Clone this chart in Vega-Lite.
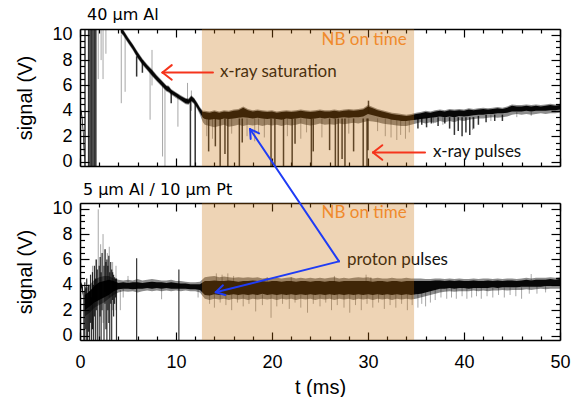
{
"$schema": "https://vega.github.io/schema/vega-lite/v6.json",
"background": "white",
"padding": {"left": 15, "top": 6, "right": 10, "bottom": 5},
"spacing": 37,
"bounds": "flush",
"config": {
  "view": {"stroke": null},
  "axis": {"zindex": 1, "grid": false, "labelFont": "Liberation Sans", "titleFont": "Liberation Sans", "labelColor": "black", "titleColor": "black", "tickColor": "black", "domainColor": "black", "domainWidth": 1.5, "tickWidth": 1.2, "labelFontSize": 18, "titleFontSize": 20, "titleFontWeight": "normal", "labelFlush": false, "labelOverlap": false}
},
"datasets": {
  "topBand": [
    {"seg":"a","t":0,"lf":4.0,"lo":4.05,"hi":4.3,"hf":4.35},
    {"seg":"a","t":0.1,"lf":3.8,"lo":3.9,"hi":4.15,"hf":4.2},
    {"seg":"a","t":0.2,"lf":3.3,"lo":3.4,"hi":3.8,"hf":3.85},
    {"seg":"a","t":0.3,"lf":2.3,"lo":2.4,"hi":3.0,"hf":3.1},
    {"seg":"a","t":0.4,"lf":0.7,"lo":0.8,"hi":1.8,"hf":1.9},
    {"seg":"a","t":0.45,"lf":-0.35,"lo":-0.35,"hi":0.8,"hf":0.9},
    {"seg":"b","t":4.25,"lf":10.1,"lo":10.2,"hi":10.45,"hf":10.45},
    {"seg":"b","t":4.5,"lf":9.92,"lo":10.0,"hi":10.35,"hf":10.42},
    {"seg":"b","t":5.0,"lf":9.32,"lo":9.4,"hi":9.75,"hf":9.82},
    {"seg":"b","t":5.5,"lf":8.77,"lo":8.85,"hi":9.2,"hf":9.27},
    {"seg":"b","t":6.0,"lf":8.12,"lo":8.2,"hi":8.6,"hf":8.67},
    {"seg":"b","t":6.5,"lf":7.62,"lo":7.7,"hi":8.05,"hf":8.12},
    {"seg":"b","t":7.0,"lf":7.17,"lo":7.25,"hi":7.6,"hf":7.67},
    {"seg":"b","t":7.5,"lf":6.72,"lo":6.8,"hi":7.2,"hf":7.27},
    {"seg":"b","t":8.0,"lf":6.32,"lo":6.4,"hi":6.75,"hf":6.82},
    {"seg":"b","t":8.5,"lf":5.92,"lo":6.0,"hi":6.35,"hf":6.42},
    {"seg":"b","t":9.0,"lf":5.52,"lo":5.6,"hi":5.95,"hf":6.02},
    {"seg":"b","t":9.25,"lf":5.42,"lo":5.5,"hi":5.9,"hf":5.97},
    {"seg":"b","t":9.5,"lf":5.27,"lo":5.35,"hi":5.65,"hf":5.72},
    {"seg":"b","t":10.0,"lf":5.02,"lo":5.1,"hi":5.4,"hf":5.47},
    {"seg":"b","t":10.5,"lf":4.77,"lo":4.85,"hi":5.15,"hf":5.22},
    {"seg":"b","t":11.0,"lf":4.52,"lo":4.6,"hi":4.95,"hf":5.02},
    {"seg":"b","t":11.3,"lf":4.47,"lo":4.55,"hi":4.9,"hf":4.97},
    {"seg":"b","t":11.6,"lf":4.72,"lo":4.8,"hi":5.15,"hf":5.22},
    {"seg":"b","t":11.9,"lf":4.52,"lo":4.6,"hi":4.95,"hf":5.02},
    {"seg":"b","t":12.2,"lf":4.15,"lo":4.25,"hi":4.6,"hf":4.67},
    {"seg":"b","t":12.5,"lf":3.7,"lo":3.85,"hi":4.2,"hf":4.28},
    {"seg":"b","t":12.8,"lf":3.1,"lo":3.45,"hi":3.9,"hf":4.0},
    {"seg":"b","t":13.0,"lf":2.9,"lo":3.35,"hi":3.9,"hf":4.0},
    {"seg":"b","t":13.5,"lf":2.8,"lo":3.3,"hi":3.85,"hf":3.95},
    {"seg":"b","t":14.0,"lf":2.7,"lo":3.35,"hi":3.95,"hf":4.05},
    {"seg":"b","t":14.5,"lf":2.8,"lo":3.3,"hi":3.85,"hf":3.95},
    {"seg":"b","t":15.0,"lf":2.9,"lo":3.4,"hi":3.95,"hf":4.05},
    {"seg":"b","t":15.5,"lf":2.75,"lo":3.35,"hi":3.9,"hf":4.0},
    {"seg":"b","t":16.0,"lf":2.8,"lo":3.4,"hi":4.0,"hf":4.1},
    {"seg":"b","t":16.5,"lf":2.9,"lo":3.45,"hi":4.05,"hf":4.15},
    {"seg":"b","t":17.0,"lf":2.8,"lo":3.5,"hi":4.25,"hf":4.35},
    {"seg":"b","t":17.5,"lf":2.9,"lo":3.45,"hi":4.05,"hf":4.15},
    {"seg":"b","t":18.0,"lf":2.85,"lo":3.4,"hi":3.95,"hf":4.05},
    {"seg":"b","t":18.5,"lf":2.9,"lo":3.45,"hi":4.0,"hf":4.1},
    {"seg":"b","t":19.0,"lf":2.8,"lo":3.4,"hi":3.95,"hf":4.05},
    {"seg":"b","t":19.5,"lf":2.9,"lo":3.35,"hi":3.9,"hf":4.0},
    {"seg":"b","t":20.0,"lf":2.85,"lo":3.4,"hi":3.95,"hf":4.05},
    {"seg":"b","t":20.5,"lf":2.9,"lo":3.35,"hi":3.85,"hf":3.95},
    {"seg":"b","t":21.0,"lf":2.8,"lo":3.3,"hi":3.9,"hf":4.0},
    {"seg":"b","t":21.5,"lf":2.9,"lo":3.4,"hi":3.95,"hf":4.05},
    {"seg":"b","t":22.0,"lf":2.85,"lo":3.35,"hi":3.9,"hf":4.0},
    {"seg":"b","t":22.5,"lf":2.9,"lo":3.4,"hi":3.95,"hf":4.05},
    {"seg":"b","t":23.0,"lf":3.0,"lo":3.45,"hi":4.0,"hf":4.1},
    {"seg":"b","t":23.5,"lf":2.9,"lo":3.4,"hi":3.95,"hf":4.05},
    {"seg":"b","t":24.0,"lf":2.85,"lo":3.35,"hi":3.9,"hf":4.0},
    {"seg":"b","t":24.5,"lf":2.9,"lo":3.4,"hi":3.95,"hf":4.05},
    {"seg":"b","t":25.0,"lf":3.0,"lo":3.45,"hi":4.0,"hf":4.1},
    {"seg":"b","t":25.5,"lf":2.9,"lo":3.4,"hi":3.95,"hf":4.05},
    {"seg":"b","t":26.0,"lf":2.95,"lo":3.45,"hi":3.95,"hf":4.05},
    {"seg":"b","t":26.5,"lf":2.9,"lo":3.4,"hi":4.0,"hf":4.1},
    {"seg":"b","t":27.0,"lf":3.0,"lo":3.45,"hi":3.95,"hf":4.05},
    {"seg":"b","t":27.5,"lf":2.95,"lo":3.5,"hi":4.0,"hf":4.1},
    {"seg":"b","t":28.0,"lf":3.0,"lo":3.45,"hi":4.05,"hf":4.15},
    {"seg":"b","t":28.5,"lf":3.05,"lo":3.5,"hi":4.0,"hf":4.1},
    {"seg":"b","t":29.0,"lf":3.0,"lo":3.5,"hi":4.05,"hf":4.15},
    {"seg":"b","t":29.5,"lf":3.1,"lo":3.55,"hi":4.1,"hf":4.2},
    {"seg":"b","t":30.0,"lf":3.2,"lo":3.75,"hi":4.35,"hf":4.45},
    {"seg":"b","t":30.5,"lf":3.15,"lo":3.65,"hi":4.2,"hf":4.3},
    {"seg":"b","t":31.0,"lf":3.1,"lo":3.55,"hi":4.05,"hf":4.15},
    {"seg":"b","t":31.5,"lf":3.0,"lo":3.45,"hi":3.95,"hf":4.05},
    {"seg":"b","t":32.0,"lf":2.95,"lo":3.4,"hi":3.85,"hf":3.95},
    {"seg":"b","t":32.5,"lf":2.9,"lo":3.3,"hi":3.75,"hf":3.85},
    {"seg":"b","t":33.0,"lf":2.85,"lo":3.25,"hi":3.7,"hf":3.8},
    {"seg":"b","t":33.5,"lf":2.8,"lo":3.2,"hi":3.65,"hf":3.75},
    {"seg":"b","t":34.0,"lf":2.8,"lo":3.2,"hi":3.6,"hf":3.7},
    {"seg":"b","t":34.5,"lf":2.9,"lo":3.25,"hi":3.65,"hf":3.75},
    {"seg":"b","t":35.0,"lf":3.0,"lo":3.3,"hi":3.75,"hf":3.85},
    {"seg":"b","t":35.5,"lf":3.1,"lo":3.35,"hi":3.8,"hf":3.9},
    {"seg":"b","t":36.0,"lf":3.0,"lo":3.4,"hi":3.9,"hf":4.0},
    {"seg":"b","t":36.5,"lf":3.1,"lo":3.45,"hi":3.85,"hf":3.95},
    {"seg":"b","t":37.0,"lf":3.05,"lo":3.5,"hi":3.95,"hf":4.05},
    {"seg":"b","t":37.5,"lf":3.2,"lo":3.55,"hi":4.0,"hf":4.1},
    {"seg":"b","t":38.0,"lf":3.1,"lo":3.5,"hi":3.95,"hf":4.05},
    {"seg":"b","t":38.5,"lf":3.2,"lo":3.55,"hi":4.05,"hf":4.15},
    {"seg":"b","t":39.0,"lf":3.1,"lo":3.5,"hi":4.0,"hf":4.1},
    {"seg":"b","t":39.5,"lf":3.25,"lo":3.6,"hi":4.05,"hf":4.15},
    {"seg":"b","t":40.0,"lf":3.2,"lo":3.55,"hi":4.0,"hf":4.1},
    {"seg":"b","t":40.5,"lf":3.3,"lo":3.6,"hi":4.1,"hf":4.2},
    {"seg":"b","t":41.0,"lf":3.35,"lo":3.65,"hi":4.05,"hf":4.15},
    {"seg":"b","t":41.5,"lf":3.4,"lo":3.7,"hi":4.1,"hf":4.2},
    {"seg":"b","t":42.0,"lf":3.4,"lo":3.7,"hi":4.15,"hf":4.25},
    {"seg":"b","t":42.5,"lf":3.45,"lo":3.75,"hi":4.1,"hf":4.2},
    {"seg":"b","t":43.0,"lf":3.5,"lo":3.75,"hi":4.15,"hf":4.25},
    {"seg":"b","t":43.5,"lf":3.45,"lo":3.8,"hi":4.2,"hf":4.3},
    {"seg":"b","t":44.0,"lf":3.5,"lo":3.8,"hi":4.15,"hf":4.25},
    {"seg":"b","t":44.5,"lf":3.55,"lo":3.85,"hi":4.25,"hf":4.35},
    {"seg":"b","t":45.0,"lf":3.7,"lo":3.95,"hi":4.4,"hf":4.5},
    {"seg":"b","t":45.5,"lf":3.75,"lo":3.95,"hi":4.35,"hf":4.45},
    {"seg":"b","t":46.0,"lf":3.7,"lo":3.95,"hi":4.35,"hf":4.45},
    {"seg":"b","t":46.5,"lf":3.75,"lo":4.0,"hi":4.4,"hf":4.5},
    {"seg":"b","t":47.0,"lf":3.7,"lo":3.95,"hi":4.35,"hf":4.45},
    {"seg":"b","t":47.5,"lf":3.75,"lo":4.0,"hi":4.4,"hf":4.5},
    {"seg":"b","t":48.0,"lf":3.8,"lo":4.0,"hi":4.35,"hf":4.45},
    {"seg":"b","t":48.5,"lf":3.75,"lo":4.0,"hi":4.4,"hf":4.5},
    {"seg":"b","t":49.0,"lf":3.8,"lo":4.05,"hi":4.45,"hf":4.55},
    {"seg":"b","t":49.5,"lf":3.8,"lo":4.05,"hi":4.4,"hf":4.5},
    {"seg":"b","t":50.0,"lf":3.85,"lo":4.1,"hi":4.45,"hf":4.55}
  ],
  "topDark": [
    {"t":0.52,"a":10.45,"b":-0.35},{"t":0.9,"a":10.45,"b":-0.35},{"t":1.05,"a":10.45,"b":-0.35},{"t":1.2,"a":10.45,"b":-0.35},{"t":1.35,"a":10.45,"b":-0.35},{"t":1.5,"a":10.45,"b":-0.35},{"t":1.65,"a":10.45,"b":-0.35},
    {"t":5.9,"a":8.3,"b":6.7},{"t":6.5,"a":8.0,"b":7.0},{"t":9.5,"a":5.6,"b":4.6},{"t":11.5,"a":4.9,"b":-0.35},{"t":12.0,"a":4.6,"b":-0.35},
    {"t":13.4,"a":3.4,"b":0.8},{"t":14.1,"a":3.4,"b":1.2},{"t":14.6,"a":3.4,"b":-0.35},{"t":15.1,"a":3.4,"b":0.6},{"t":15.4,"a":3.4,"b":-0.35},{"t":16.6,"a":3.4,"b":-0.35},{"t":16.9,"a":3.4,"b":1.5},
    {"t":19.9,"a":3.4,"b":-0.35},{"t":20.3,"a":3.4,"b":-0.35},{"t":21.2,"a":3.4,"b":-0.35},{"t":22.1,"a":3.4,"b":-0.35},{"t":22.4,"a":3.4,"b":1.4},{"t":24.1,"a":3.4,"b":-0.35},{"t":24.3,"a":3.4,"b":0.8},
    {"t":26.0,"a":3.4,"b":0.9},{"t":26.6,"a":3.4,"b":-0.35},{"t":26.9,"a":3.4,"b":-0.35},{"t":27.3,"a":3.4,"b":0.2},{"t":27.6,"a":3.4,"b":-0.35},{"t":28.5,"a":3.4,"b":0.8},{"t":29.5,"a":3.4,"b":-0.35},{"t":29.9,"a":3.4,"b":-0.35},{"t":30.0,"a":3.4,"b":0.9},{"t":30.05,"a":4.8,"b":3.8},
    {"t":35.2,"a":3.5,"b":2.6},{"t":35.6,"a":3.5,"b":2.9},{"t":36.1,"a":3.5,"b":2.7},{"t":36.6,"a":3.5,"b":3.0},{"t":37.3,"a":3.5,"b":2.8},{"t":38.0,"a":3.5,"b":3.0},{"t":38.5,"a":3.5,"b":2.6},{"t":39.0,"a":3.5,"b":2.1},{"t":39.4,"a":3.5,"b":2.4},{"t":39.8,"a":3.5,"b":2.0},{"t":40.2,"a":3.5,"b":2.3},{"t":40.6,"a":3.5,"b":2.1},{"t":41.0,"a":3.5,"b":2.6},{"t":41.5,"a":3.6,"b":2.9},{"t":42.3,"a":3.7,"b":3.1},{"t":43.2,"a":3.7,"b":3.2},{"t":44.0,"a":3.7,"b":3.2}
  ],
  "topLight": [
    {"t":1.9,"a":10.45,"b":6.5},{"t":2.2,"a":10.45,"b":8.0},{"t":2.4,"a":10.45,"b":6.5},{"t":2.7,"a":10.45,"b":8.5},{"t":4.3,"a":10.0,"b":4.6},{"t":4.7,"a":9.9,"b":5.5},{"t":7.3,"a":7.1,"b":3.3},{"t":7.5,"a":8.8,"b":6.0},{"t":8.6,"a":6.2,"b":0.4},{"t":8.85,"a":6.0,"b":-0.35},{"t":10.2,"a":5.3,"b":2.75},{"t":11.2,"a":6.2,"b":4.7},{"t":11.6,"a":5.6,"b":4.0},
    {"t":13.2,"a":3.4,"b":2.0},{"t":13.8,"a":3.4,"b":1.8},{"t":15.8,"a":3.4,"b":2.2},{"t":17.4,"a":3.4,"b":2.0},{"t":18.2,"a":3.4,"b":1.6},{"t":18.6,"a":3.4,"b":2.3},{"t":19.2,"a":3.4,"b":1.9},{"t":21.6,"a":3.4,"b":2.0},{"t":23.0,"a":3.4,"b":1.8},{"t":23.6,"a":3.4,"b":2.3},{"t":25.2,"a":3.4,"b":1.9},{"t":28.0,"a":3.4,"b":2.2},{"t":31.0,"a":3.4,"b":2.4},{"t":31.8,"a":3.4,"b":2.0},{"t":32.4,"a":3.4,"b":1.9},{"t":33.0,"a":3.3,"b":1.7},{"t":33.4,"a":3.3,"b":2.1},{"t":33.9,"a":3.3,"b":1.8},{"t":34.3,"a":3.3,"b":2.3},
    {"t":36.8,"a":3.5,"b":3.0},{"t":37.8,"a":3.5,"b":2.9},{"t":40.9,"a":3.5,"b":2.5},{"t":42.8,"a":3.7,"b":3.2},{"t":45.5,"a":3.9,"b":3.5},{"t":47.0,"a":3.9,"b":3.6}
  ],
  "topNotes": [
    {"t":14.58,"v":7.06,"text":"x-ray saturation"},
    {"t":36.77,"v":0.75,"text":"x-ray pulses"}
  ],
  "topNB": [{"t":29.6,"v":9.58,"text":"NB on time"}],
  "nb": [{"start":12.7,"end":34.8}],
  "topArrows": [
    {"t1":8.59,"v1":7.02,"t2":13.85,"v2":7.02},
    {"t1":8.59,"v1":7.02,"t2":9.56,"v2":7.6},
    {"t1":8.59,"v1":7.02,"t2":9.56,"v2":6.45},
    {"t1":30.52,"v1":0.715,"t2":35.94,"v2":0.715},
    {"t1":30.52,"v1":0.715,"t2":31.49,"v2":1.29},
    {"t1":30.52,"v1":0.715,"t2":31.49,"v2":0.14}
  ],
  "botBand": [
    {"seg":"a","t":0,"lf":3.9,"lo":3.95,"hi":4.25,"hf":4.3},
    {"seg":"a","t":0.15,"lf":3.7,"lo":3.75,"hi":4.1,"hf":4.2},
    {"seg":"a","t":0.3,"lf":3.0,"lo":3.2,"hi":3.8,"hf":3.9},
    {"seg":"b","t":0.5,"lf":1.5,"lo":2.0,"hi":3.2,"hf":3.6},
    {"seg":"b","t":1.0,"lf":1.8,"lo":2.3,"hi":3.5,"hf":4.0},
    {"seg":"b","t":1.5,"lf":2.2,"lo":2.6,"hi":3.9,"hf":4.4},
    {"seg":"b","t":2.0,"lf":2.4,"lo":2.8,"hi":4.2,"hf":4.6},
    {"seg":"b","t":2.5,"lf":2.6,"lo":3.0,"hi":4.3,"hf":4.7},
    {"seg":"b","t":3.0,"lf":2.9,"lo":3.2,"hi":4.4,"hf":4.7},
    {"seg":"b","t":3.5,"lf":3.2,"lo":3.5,"hi":4.3,"hf":4.5},
    {"seg":"b","t":4.0,"lf":3.4,"lo":3.65,"hi":4.15,"hf":4.4},
    {"seg":"b","t":4.5,"lf":3.5,"lo":3.7,"hi":4.2,"hf":4.35},
    {"seg":"b","t":5.0,"lf":3.45,"lo":3.7,"hi":4.15,"hf":4.4},
    {"seg":"b","t":5.5,"lf":3.5,"lo":3.65,"hi":4.2,"hf":4.35},
    {"seg":"b","t":6.0,"lf":3.4,"lo":3.7,"hi":4.2,"hf":4.45},
    {"seg":"b","t":6.5,"lf":3.5,"lo":3.7,"hi":4.15,"hf":4.35},
    {"seg":"b","t":7.0,"lf":3.55,"lo":3.75,"hi":4.2,"hf":4.4},
    {"seg":"b","t":7.5,"lf":3.5,"lo":3.7,"hi":4.25,"hf":4.45},
    {"seg":"b","t":8.0,"lf":3.55,"lo":3.75,"hi":4.2,"hf":4.4},
    {"seg":"b","t":8.5,"lf":3.5,"lo":3.7,"hi":4.2,"hf":4.35},
    {"seg":"b","t":9.0,"lf":3.55,"lo":3.75,"hi":4.15,"hf":4.35},
    {"seg":"b","t":9.5,"lf":3.5,"lo":3.7,"hi":4.2,"hf":4.4},
    {"seg":"b","t":10.0,"lf":3.55,"lo":3.7,"hi":4.15,"hf":4.3},
    {"seg":"b","t":10.5,"lf":3.5,"lo":3.7,"hi":4.1,"hf":4.3},
    {"seg":"b","t":11.0,"lf":3.55,"lo":3.7,"hi":4.1,"hf":4.25},
    {"seg":"b","t":11.5,"lf":3.5,"lo":3.65,"hi":4.05,"hf":4.2},
    {"seg":"b","t":12.0,"lf":3.5,"lo":3.65,"hi":4.05,"hf":4.2},
    {"seg":"b","t":12.5,"lf":3.4,"lo":3.6,"hi":4.05,"hf":4.25},
    {"seg":"b","t":13.0,"lf":2.9,"lo":3.2,"hi":4.3,"hf":4.6},
    {"seg":"b","t":13.5,"lf":2.8,"lo":3.15,"hi":4.3,"hf":4.65},
    {"seg":"b","t":14.0,"lf":2.9,"lo":3.25,"hi":4.35,"hf":4.7},
    {"seg":"b","t":14.5,"lf":2.85,"lo":3.2,"hi":4.3,"hf":4.6},
    {"seg":"b","t":15.0,"lf":2.9,"lo":3.25,"hi":4.3,"hf":4.65},
    {"seg":"b","t":15.5,"lf":2.8,"lo":3.2,"hi":4.35,"hf":4.6},
    {"seg":"b","t":16.0,"lf":2.9,"lo":3.25,"hi":4.3,"hf":4.55},
    {"seg":"b","t":16.5,"lf":2.85,"lo":3.2,"hi":4.25,"hf":4.6},
    {"seg":"b","t":17.0,"lf":2.9,"lo":3.25,"hi":4.3,"hf":4.55},
    {"seg":"b","t":17.5,"lf":2.8,"lo":3.2,"hi":4.3,"hf":4.6},
    {"seg":"b","t":18.0,"lf":2.9,"lo":3.25,"hi":4.35,"hf":4.55},
    {"seg":"b","t":18.5,"lf":2.85,"lo":3.2,"hi":4.3,"hf":4.6},
    {"seg":"b","t":19.0,"lf":2.9,"lo":3.3,"hi":4.3,"hf":4.5},
    {"seg":"b","t":19.5,"lf":2.85,"lo":3.2,"hi":4.25,"hf":4.55},
    {"seg":"b","t":20.0,"lf":2.9,"lo":3.25,"hi":4.3,"hf":4.5},
    {"seg":"b","t":20.5,"lf":2.8,"lo":3.2,"hi":4.3,"hf":4.55},
    {"seg":"b","t":21.0,"lf":2.9,"lo":3.25,"hi":4.25,"hf":4.5},
    {"seg":"b","t":21.5,"lf":2.85,"lo":3.2,"hi":4.3,"hf":4.55},
    {"seg":"b","t":22.0,"lf":2.9,"lo":3.25,"hi":4.3,"hf":4.6},
    {"seg":"b","t":22.5,"lf":2.8,"lo":3.2,"hi":4.25,"hf":4.5},
    {"seg":"b","t":23.0,"lf":2.9,"lo":3.25,"hi":4.3,"hf":4.55},
    {"seg":"b","t":23.5,"lf":2.85,"lo":3.2,"hi":4.3,"hf":4.5},
    {"seg":"b","t":24.0,"lf":2.9,"lo":3.25,"hi":4.25,"hf":4.55},
    {"seg":"b","t":24.5,"lf":2.8,"lo":3.2,"hi":4.3,"hf":4.5},
    {"seg":"b","t":25.0,"lf":2.9,"lo":3.25,"hi":4.3,"hf":4.55},
    {"seg":"b","t":25.5,"lf":2.85,"lo":3.2,"hi":4.25,"hf":4.5},
    {"seg":"b","t":26.0,"lf":2.9,"lo":3.25,"hi":4.3,"hf":4.55},
    {"seg":"b","t":26.5,"lf":2.8,"lo":3.2,"hi":4.3,"hf":4.6},
    {"seg":"b","t":27.0,"lf":2.9,"lo":3.25,"hi":4.25,"hf":4.5},
    {"seg":"b","t":27.5,"lf":2.85,"lo":3.2,"hi":4.3,"hf":4.55},
    {"seg":"b","t":28.0,"lf":2.9,"lo":3.25,"hi":4.3,"hf":4.5},
    {"seg":"b","t":28.5,"lf":2.8,"lo":3.2,"hi":4.3,"hf":4.55},
    {"seg":"b","t":29.0,"lf":2.9,"lo":3.25,"hi":4.3,"hf":4.6},
    {"seg":"b","t":29.5,"lf":2.85,"lo":3.2,"hi":4.3,"hf":4.55},
    {"seg":"b","t":30.0,"lf":2.9,"lo":3.25,"hi":4.3,"hf":4.6},
    {"seg":"b","t":30.5,"lf":2.8,"lo":3.2,"hi":4.25,"hf":4.5},
    {"seg":"b","t":31.0,"lf":2.9,"lo":3.25,"hi":4.3,"hf":4.55},
    {"seg":"b","t":31.5,"lf":2.85,"lo":3.2,"hi":4.3,"hf":4.5},
    {"seg":"b","t":32.0,"lf":2.9,"lo":3.25,"hi":4.25,"hf":4.5},
    {"seg":"b","t":32.5,"lf":2.8,"lo":3.2,"hi":4.3,"hf":4.55},
    {"seg":"b","t":33.0,"lf":2.9,"lo":3.25,"hi":4.3,"hf":4.5},
    {"seg":"b","t":33.5,"lf":2.85,"lo":3.2,"hi":4.25,"hf":4.5},
    {"seg":"b","t":34.0,"lf":2.9,"lo":3.25,"hi":4.3,"hf":4.55},
    {"seg":"b","t":34.5,"lf":2.85,"lo":3.2,"hi":4.3,"hf":4.5},
    {"seg":"b","t":35.0,"lf":2.9,"lo":3.25,"hi":4.3,"hf":4.5},
    {"seg":"b","t":35.5,"lf":3.0,"lo":3.3,"hi":4.3,"hf":4.5},
    {"seg":"b","t":36.0,"lf":3.1,"lo":3.4,"hi":4.3,"hf":4.45},
    {"seg":"b","t":36.5,"lf":3.2,"lo":3.5,"hi":4.3,"hf":4.45},
    {"seg":"b","t":37.0,"lf":3.3,"lo":3.6,"hi":4.35,"hf":4.5},
    {"seg":"b","t":37.5,"lf":3.4,"lo":3.7,"hi":4.35,"hf":4.5},
    {"seg":"b","t":38.0,"lf":3.45,"lo":3.7,"hi":4.3,"hf":4.45},
    {"seg":"b","t":38.5,"lf":3.5,"lo":3.75,"hi":4.35,"hf":4.5},
    {"seg":"b","t":39.0,"lf":3.45,"lo":3.7,"hi":4.3,"hf":4.45},
    {"seg":"b","t":39.5,"lf":3.5,"lo":3.75,"hi":4.35,"hf":4.5},
    {"seg":"b","t":40.0,"lf":3.5,"lo":3.75,"hi":4.3,"hf":4.45},
    {"seg":"b","t":40.5,"lf":3.5,"lo":3.7,"hi":4.3,"hf":4.45},
    {"seg":"b","t":41.0,"lf":3.55,"lo":3.75,"hi":4.35,"hf":4.5},
    {"seg":"b","t":41.5,"lf":3.5,"lo":3.75,"hi":4.3,"hf":4.45},
    {"seg":"b","t":42.0,"lf":3.55,"lo":3.75,"hi":4.3,"hf":4.5},
    {"seg":"b","t":42.5,"lf":3.5,"lo":3.75,"hi":4.35,"hf":4.5},
    {"seg":"b","t":43.0,"lf":3.55,"lo":3.8,"hi":4.3,"hf":4.45},
    {"seg":"b","t":43.5,"lf":3.55,"lo":3.75,"hi":4.35,"hf":4.5},
    {"seg":"b","t":44.0,"lf":3.6,"lo":3.8,"hi":4.3,"hf":4.45},
    {"seg":"b","t":44.5,"lf":3.55,"lo":3.8,"hi":4.35,"hf":4.5},
    {"seg":"b","t":45.0,"lf":3.6,"lo":3.8,"hi":4.35,"hf":4.5},
    {"seg":"b","t":45.5,"lf":3.6,"lo":3.8,"hi":4.3,"hf":4.45},
    {"seg":"b","t":46.0,"lf":3.6,"lo":3.85,"hi":4.35,"hf":4.5},
    {"seg":"b","t":46.5,"lf":3.65,"lo":3.85,"hi":4.4,"hf":4.55},
    {"seg":"b","t":47.0,"lf":3.6,"lo":3.85,"hi":4.35,"hf":4.5},
    {"seg":"b","t":47.5,"lf":3.65,"lo":3.85,"hi":4.4,"hf":4.55},
    {"seg":"b","t":48.0,"lf":3.7,"lo":3.85,"hi":4.4,"hf":4.55},
    {"seg":"b","t":48.5,"lf":3.65,"lo":3.9,"hi":4.4,"hf":4.55},
    {"seg":"b","t":49.0,"lf":3.7,"lo":3.9,"hi":4.45,"hf":4.6},
    {"seg":"b","t":49.5,"lf":3.7,"lo":3.9,"hi":4.4,"hf":4.55},
    {"seg":"b","t":50.0,"lf":3.7,"lo":3.95,"hi":4.45,"hf":4.6}
  ],
  "botDark": [
    {"t":0.4,"a":3.5,"b":-0.35},{"t":0.5,"a":4.2,"b":-0.35},{"t":0.6,"a":3.8,"b":0.5},{"t":0.7,"a":4.5,"b":-0.35},{"t":0.8,"a":3.0,"b":-0.35},{"t":0.9,"a":4.0,"b":0.3},{"t":1.0,"a":3.5,"b":-0.35},{"t":1.1,"a":4.8,"b":1.0},{"t":1.2,"a":3.0,"b":-0.35},{"t":1.3,"a":5.0,"b":0.5},{"t":1.4,"a":4.0,"b":-0.35},{"t":1.5,"a":5.5,"b":1.5},{"t":1.6,"a":4.5,"b":-0.35},{"t":1.7,"a":6.0,"b":2.0},{"t":1.8,"a":5.2,"b":-0.35},
    {"t":2.0,"a":5.5,"b":-0.35},{"t":2.1,"a":6.2,"b":1.5},{"t":2.2,"a":5.0,"b":-0.35},{"t":2.3,"a":6.5,"b":2.0},{"t":2.5,"a":5.5,"b":-0.35},{"t":2.6,"a":6.8,"b":2.5},{"t":2.7,"a":5.8,"b":0.5},{"t":2.8,"a":6.0,"b":-0.35},{"t":2.9,"a":5.5,"b":2.0},{"t":3.0,"a":6.3,"b":1.0},{"t":3.1,"a":5.0,"b":-0.35},{"t":3.2,"a":5.8,"b":2.5},{"t":3.3,"a":5.2,"b":-0.35},{"t":3.4,"a":5.0,"b":2.8},{"t":3.5,"a":4.8,"b":1.5},{"t":3.6,"a":4.6,"b":2.5},{"t":3.7,"a":4.5,"b":3.0},{"t":3.8,"a":4.5,"b":-0.35},
    {"t":5.9,"a":6.1,"b":-0.35},{"t":10.3,"a":5.2,"b":-0.35}
  ],
  "botLight": [
    {"t":1.3,"a":5.5,"b":0.5},{"t":1.65,"a":6.0,"b":3.0},{"t":1.9,"a":9.95,"b":2.5},{"t":2.15,"a":7.2,"b":3.0},{"t":2.4,"a":8.0,"b":1.0},{"t":2.65,"a":6.8,"b":3.5},{"t":2.85,"a":6.5,"b":3.2},{"t":3.05,"a":7.0,"b":3.0},{"t":3.4,"a":5.8,"b":2.0},{"t":3.75,"a":5.5,"b":2.0},
    {"t":4.2,"a":3.6,"b":2.0},{"t":4.5,"a":3.7,"b":3.0},{"t":5.0,"a":4.7,"b":4.0},{"t":8.5,"a":3.7,"b":2.86},{"t":12.3,"a":3.6,"b":3.0},
    {"t":13.5,"a":3.3,"b":2.5},{"t":14.0,"a":3.3,"b":2.2},{"t":14.6,"a":3.3,"b":2.6},{"t":15.2,"a":3.3,"b":2.4},{"t":15.8,"a":3.3,"b":2.0},{"t":16.4,"a":3.3,"b":2.6},{"t":17.0,"a":3.3,"b":2.3},{"t":17.6,"a":3.3,"b":2.5},{"t":18.3,"a":3.3,"b":1.9},{"t":19.0,"a":3.3,"b":2.4},{"t":19.9,"a":3.3,"b":1.4},{"t":20.5,"a":3.3,"b":2.3},{"t":21.1,"a":3.3,"b":2.5},{"t":21.8,"a":3.3,"b":2.1},{"t":22.4,"a":3.3,"b":2.6},{"t":23.0,"a":3.3,"b":2.2},{"t":23.7,"a":3.3,"b":1.8},{"t":24.3,"a":3.3,"b":2.5},{"t":25.0,"a":3.3,"b":2.3},{"t":25.6,"a":3.3,"b":2.6},{"t":26.2,"a":3.3,"b":2.0},{"t":26.8,"a":3.3,"b":2.4},{"t":27.5,"a":3.3,"b":2.2},{"t":28.1,"a":3.3,"b":1.8},{"t":28.7,"a":3.3,"b":2.4},{"t":29.3,"a":3.3,"b":2.0},{"t":29.9,"a":3.3,"b":2.5},{"t":30.5,"a":3.3,"b":2.2},{"t":31.1,"a":3.3,"b":2.6},{"t":31.7,"a":3.3,"b":2.1},{"t":32.3,"a":3.3,"b":2.4},{"t":32.9,"a":3.3,"b":2.2},{"t":33.5,"a":3.3,"b":2.5},{"t":34.1,"a":3.3,"b":2.0},{"t":34.6,"a":3.3,"b":2.4},
    {"t":14.2,"a":4.9,"b":4.2},{"t":14.8,"a":4.8,"b":4.2},{"t":15.4,"a":4.9,"b":4.2},{"t":16.0,"a":4.7,"b":4.2},{"t":19.5,"a":4.6,"b":4.2},{"t":22.0,"a":4.6,"b":4.2},{"t":26.5,"a":4.7,"b":4.2},{"t":29.8,"a":4.8,"b":4.2},{"t":30.3,"a":4.6,"b":4.2},
    {"t":35.2,"a":3.4,"b":2.2},{"t":35.6,"a":3.4,"b":2.5},{"t":36.0,"a":3.5,"b":2.3},{"t":36.5,"a":3.6,"b":2.6},{"t":37.0,"a":3.7,"b":2.8},{"t":37.6,"a":3.8,"b":3.0},{"t":38.2,"a":3.8,"b":2.9},{"t":38.7,"a":3.8,"b":3.0},{"t":39.2,"a":3.8,"b":2.9},{"t":39.8,"a":3.8,"b":3.1},{"t":40.3,"a":3.8,"b":2.9},{"t":40.8,"a":3.8,"b":3.0},{"t":41.3,"a":3.8,"b":3.1},{"t":41.8,"a":3.8,"b":2.9},{"t":42.4,"a":3.8,"b":3.1},{"t":43.0,"a":3.8,"b":3.0},{"t":43.6,"a":3.8,"b":3.2},{"t":44.2,"a":3.8,"b":3.0},{"t":44.8,"a":3.8,"b":3.2},{"t":45.4,"a":3.8,"b":3.1},{"t":46.0,"a":3.8,"b":2.9},{"t":46.8,"a":3.9,"b":3.3},{"t":47.0,"a":4.85,"b":4.3},{"t":47.6,"a":3.9,"b":3.3},{"t":48.5,"a":3.9,"b":3.4}
  ],
  "botNotes": [{"t":27.8,"v":5.93,"text":"proton pulses"}],
  "botLabel": [{"t":0.3,"v":11.11,"text":"5 µm Al / 10 µm Pt"}],
  "botNB": [{"t":29.6,"v":9.64,"text":"NB on time"}],
  "botArrows": [
    {"t1":26.98,"v1":5.85,"t2":17.71,"v2":16.28},
    {"t1":26.98,"v1":5.85,"t2":14.14,"v2":3.41},
    {"t1":17.71,"v1":16.28,"t2":17.78,"v2":15.5},
    {"t1":17.71,"v1":16.28,"t2":18.65,"v2":15.94},
    {"t1":14.14,"v1":3.41,"t2":15.14,"v2":3.2},
    {"t1":14.14,"v1":3.41,"t2":14.89,"v2":3.96}
  ]
},
"vconcat": [
  {
    "width": 480, "height": 137,
    "title": {"text": "40 µm Al", "anchor": "start", "frame": "group", "fontSize": 16, "fontWeight": "normal", "font": "DejaVu Sans", "color": "black", "dx": 7, "offset": 3},
    "resolve": {"axis": {"x": "independent", "y": "independent"}},
    "layer": [
      {"data": {"name": "topBand"}, "mark": {"type": "area", "color": "black", "opacity": 0.45},
       "encoding": {
         "x": {"field": "t", "type": "quantitative", "scale": {"domain": [0, 50], "nice": false, "zero": false}, "axis": {"orient": "bottom", "values": [0,10,20,30,40,50], "tickSize": -8, "labels": false, "title": null, "domain": true}},
         "y": {"field": "lf", "type": "quantitative", "scale": {"domain": [-0.35, 10.45], "nice": false, "zero": false}, "axis": {"orient": "left", "values": [0,2,4,6,8,10], "tickSize": -9, "labelPadding": 17, "labelFontSize": 18, "title": "signal (V)", "titleFontSize": 20, "titlePadding": 16, "domain": true}},
         "y2": {"field": "hf"}, "detail": {"field": "seg"}}},
      {"data": {"name": "topBand"}, "mark": {"type": "area", "color": "black", "opacity": 0.95},
       "encoding": {
         "x": {"field": "t", "type": "quantitative", "scale": {"domain": [0, 50], "nice": false, "zero": false}, "axis": {"orient": "bottom", "values": [2,4,6,8,12,14,16,18,22,24,26,28,32,34,36,38,42,44,46,48], "tickSize": -4, "labels": false, "title": null, "domain": false}},
         "y": {"field": "lo", "type": "quantitative", "scale": {"domain": [-0.35, 10.45], "nice": false, "zero": false}, "axis": {"orient": "left", "values": [0.5,1,1.5,2.5,3,3.5,4.5,5,5.5,6.5,7,7.5,8.5,9,9.5], "tickSize": -4.5, "labels": false, "title": null, "domain": false}},
         "y2": {"field": "hi"}, "detail": {"field": "seg"}}},
      {"data": {"name": "topDark"}, "mark": {"type": "rule", "color": "black", "opacity": 0.8, "strokeWidth": 1.5},
       "encoding": {
         "x": {"field": "t", "type": "quantitative", "scale": {"domain": [0, 50], "nice": false, "zero": false}, "axis": {"orient": "top", "values": [0,10,20,30,40,50], "tickSize": -8, "labels": false, "title": null, "domain": true}},
         "y": {"field": "a", "type": "quantitative", "scale": {"domain": [-0.35, 10.45], "nice": false, "zero": false}, "axis": {"orient": "right", "values": [0,2,4,6,8,10], "tickSize": -9, "labels": false, "title": null, "domain": true}},
         "y2": {"field": "b"}}},
      {"data": {"name": "topLight"}, "mark": {"type": "rule", "color": "black", "opacity": 0.35, "strokeWidth": 1},
       "encoding": {
         "x": {"field": "t", "type": "quantitative", "scale": {"domain": [0, 50], "nice": false, "zero": false}, "axis": {"orient": "top", "values": [2,4,6,8,12,14,16,18,22,24,26,28,32,34,36,38,42,44,46,48], "tickSize": -4, "labels": false, "title": null, "domain": false}},
         "y": {"field": "a", "type": "quantitative", "scale": {"domain": [-0.35, 10.45], "nice": false, "zero": false}, "axis": {"orient": "right", "values": [0.5,1,1.5,2.5,3,3.5,4.5,5,5.5,6.5,7,7.5,8.5,9,9.5], "tickSize": -4.5, "labels": false, "title": null, "domain": false}},
         "y2": {"field": "b"}}},
      {"data": {"name": "topNotes"}, "mark": {"type": "text", "font": "Lato", "fontSize": 17, "align": "left", "baseline": "middle", "color": "#111111"},
       "encoding": {
         "x": {"field": "t", "type": "quantitative", "scale": {"domain": [0, 50], "nice": false, "zero": false}, "axis": null},
         "y": {"field": "v", "type": "quantitative", "scale": {"domain": [-0.35, 10.45], "nice": false, "zero": false}, "axis": null},
         "text": {"field": "text"}}},
      {"data": {"name": "nb"}, "mark": {"type": "rect", "color": "#c8700a", "opacity": 0.3},
       "encoding": {
         "x": {"field": "start", "type": "quantitative", "scale": {"domain": [0, 50], "nice": false, "zero": false}, "axis": null},
         "x2": {"field": "end"}}},
      {"data": {"name": "topNB"}, "mark": {"type": "text", "font": "Lato", "fontSize": 17, "align": "center", "baseline": "middle", "color": "#f08a2c"},
       "encoding": {
         "x": {"field": "t", "type": "quantitative", "scale": {"domain": [0, 50], "nice": false, "zero": false}, "axis": null},
         "y": {"field": "v", "type": "quantitative", "scale": {"domain": [-0.35, 10.45], "nice": false, "zero": false}, "axis": null},
         "text": {"field": "text"}}},
      {"data": {"name": "topArrows"}, "mark": {"type": "rule", "color": "#f5341c", "strokeWidth": 2, "strokeCap": "round"},
       "encoding": {
         "x": {"field": "t1", "type": "quantitative", "scale": {"domain": [0, 50], "nice": false, "zero": false}, "axis": null},
         "y": {"field": "v1", "type": "quantitative", "scale": {"domain": [-0.35, 10.45], "nice": false, "zero": false}, "axis": null},
         "x2": {"field": "t2"}, "y2": {"field": "v2"}}}
    ]
  },
  {
    "width": 480, "height": 137,
    "resolve": {"axis": {"x": "independent", "y": "independent"}},
    "layer": [
      {"data": {"name": "botBand"}, "mark": {"type": "area", "color": "black", "opacity": 0.45},
       "encoding": {
         "x": {"field": "t", "type": "quantitative", "scale": {"domain": [0, 50], "nice": false, "zero": false}, "axis": {"orient": "bottom", "values": [0,10,20,30,40,50], "tickSize": -8, "labelPadding": 21, "labelFontSize": 18, "title": "t (ms)", "titleFontSize": 20, "titlePadding": 6, "domain": true}},
         "y": {"field": "lf", "type": "quantitative", "scale": {"domain": [-0.35, 10.45], "nice": false, "zero": false}, "axis": {"orient": "left", "values": [0,2,4,6,8,10], "tickSize": -9, "labelPadding": 17, "labelFontSize": 18, "title": "signal (V)", "titleFontSize": 20, "titlePadding": 16, "domain": true}},
         "y2": {"field": "hf"}, "detail": {"field": "seg"}}},
      {"data": {"name": "botBand"}, "mark": {"type": "area", "color": "black", "opacity": 0.95},
       "encoding": {
         "x": {"field": "t", "type": "quantitative", "scale": {"domain": [0, 50], "nice": false, "zero": false}, "axis": {"orient": "bottom", "values": [2,4,6,8,12,14,16,18,22,24,26,28,32,34,36,38,42,44,46,48], "tickSize": -4, "labels": false, "title": null, "domain": false}},
         "y": {"field": "lo", "type": "quantitative", "scale": {"domain": [-0.35, 10.45], "nice": false, "zero": false}, "axis": {"orient": "left", "values": [0.5,1,1.5,2.5,3,3.5,4.5,5,5.5,6.5,7,7.5,8.5,9,9.5], "tickSize": -4.5, "labels": false, "title": null, "domain": false}},
         "y2": {"field": "hi"}, "detail": {"field": "seg"}}},
      {"data": {"name": "botDark"}, "mark": {"type": "rule", "color": "black", "opacity": 0.8, "strokeWidth": 1.2},
       "encoding": {
         "x": {"field": "t", "type": "quantitative", "scale": {"domain": [0, 50], "nice": false, "zero": false}, "axis": {"orient": "top", "values": [0,10,20,30,40,50], "tickSize": -8, "labels": false, "title": null, "domain": true}},
         "y": {"field": "a", "type": "quantitative", "scale": {"domain": [-0.35, 10.45], "nice": false, "zero": false}, "axis": {"orient": "right", "values": [0,2,4,6,8,10], "tickSize": -9, "labels": false, "title": null, "domain": true}},
         "y2": {"field": "b"}}},
      {"data": {"name": "botLight"}, "mark": {"type": "rule", "color": "black", "opacity": 0.35, "strokeWidth": 1},
       "encoding": {
         "x": {"field": "t", "type": "quantitative", "scale": {"domain": [0, 50], "nice": false, "zero": false}, "axis": {"orient": "top", "values": [2,4,6,8,12,14,16,18,22,24,26,28,32,34,36,38,42,44,46,48], "tickSize": -4, "labels": false, "title": null, "domain": false}},
         "y": {"field": "a", "type": "quantitative", "scale": {"domain": [-0.35, 10.45], "nice": false, "zero": false}, "axis": {"orient": "right", "values": [0.5,1,1.5,2.5,3,3.5,4.5,5,5.5,6.5,7,7.5,8.5,9,9.5], "tickSize": -4.5, "labels": false, "title": null, "domain": false}},
         "y2": {"field": "b"}}},
      {"data": {"name": "botNotes"}, "mark": {"type": "text", "font": "Lato", "fontSize": 17, "align": "left", "baseline": "middle", "color": "#111111"},
       "encoding": {
         "x": {"field": "t", "type": "quantitative", "scale": {"domain": [0, 50], "nice": false, "zero": false}, "axis": null},
         "y": {"field": "v", "type": "quantitative", "scale": {"domain": [-0.35, 10.45], "nice": false, "zero": false}, "axis": null},
         "text": {"field": "text"}}},
      {"data": {"name": "botLabel"}, "mark": {"type": "text", "font": "DejaVu Sans", "fontSize": 16, "align": "left", "baseline": "alphabetic", "color": "black"},
       "encoding": {
         "x": {"field": "t", "type": "quantitative", "scale": {"domain": [0, 50], "nice": false, "zero": false}, "axis": null},
         "y": {"field": "v", "type": "quantitative", "scale": {"domain": [-0.35, 10.45], "nice": false, "zero": false}, "axis": null},
         "text": {"field": "text"}}},
      {"data": {"name": "nb"}, "mark": {"type": "rect", "color": "#c8700a", "opacity": 0.3},
       "encoding": {
         "x": {"field": "start", "type": "quantitative", "scale": {"domain": [0, 50], "nice": false, "zero": false}, "axis": null},
         "x2": {"field": "end"}}},
      {"data": {"name": "botNB"}, "mark": {"type": "text", "font": "Lato", "fontSize": 17, "align": "center", "baseline": "middle", "color": "#f08a2c"},
       "encoding": {
         "x": {"field": "t", "type": "quantitative", "scale": {"domain": [0, 50], "nice": false, "zero": false}, "axis": null},
         "y": {"field": "v", "type": "quantitative", "scale": {"domain": [-0.35, 10.45], "nice": false, "zero": false}, "axis": null},
         "text": {"field": "text"}}},
      {"data": {"name": "botArrows"}, "mark": {"type": "rule", "color": "#1f3cf5", "strokeWidth": 2, "strokeCap": "round"},
       "encoding": {
         "x": {"field": "t1", "type": "quantitative", "scale": {"domain": [0, 50], "nice": false, "zero": false}, "axis": null},
         "y": {"field": "v1", "type": "quantitative", "scale": {"domain": [-0.35, 10.45], "nice": false, "zero": false}, "axis": null},
         "x2": {"field": "t2"}, "y2": {"field": "v2"}}}
    ]
  }
]
}
